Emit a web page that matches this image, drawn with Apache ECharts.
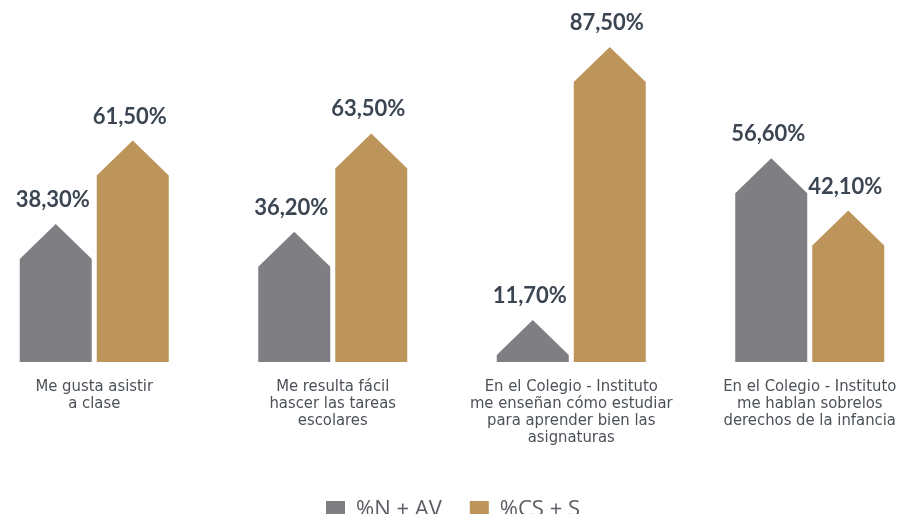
<!DOCTYPE html>
<html>
<head>
<meta charset="utf-8">
<script src="https://cdn.jsdelivr.net/npm/echarts@6/dist/echarts.min.js"></script>
<style>
  html, body { margin: 0; padding: 0; background: #ffffff; }
  #chart { width: 906px; height: 514px; }
</style>
</head>
<body>
<div id="chart"></div>
<script>
// Survey items (axis categories)
const categories = [
  'Me gusta asistir\na clase',
  'Me resulta fácil\nhascer las tareas\nescolares',
  'En el Colegio - Instituto\nme enseñan cómo estudiar\npara aprender bien las\nasignaturas',
  'En el Colegio - Instituto\nme hablan sobrelos\nderechos de la infancia'
];
const seriesNames = ['%N + AV', '%CS + S'];
const valuesNAV = [38.3, 36.2, 11.7, 56.6];
const valuesCSS = [61.5, 63.5, 87.5, 42.1];

const GREY = '#7f7e83';
const GOLD = '#bd955b';
const BAR_W = 72;
const BAR_OFFSET = 38.5;
const ROOF_H = 35;

function fmt(v) {
  return v.toFixed(2).replace('.', ',') + '%';
}

// Each bar is drawn as a small house: a rectangle with a pitched roof whose
// apex sits at the data value.
function houseRenderer(offset, color) {
  return function (params, api) {
    const idx = api.value(0);
    const val = api.value(1);
    const top = api.coord([idx, val]);
    const base = api.coord([idx, 0]);
    const cx = top[0] + offset;
    const half = BAR_W / 2;
    const roof = Math.min(ROOF_H, base[1] - top[1]);
    return {
      type: 'group',
      children: [
        {
          type: 'polygon',
          shape: {
            points: [
              [cx - half, base[1]],
              [cx - half, top[1] + roof],
              [cx, top[1]],
              [cx + half, top[1] + roof],
              [cx + half, base[1]]
            ]
          },
          style: { fill: color }
        },
        {
          type: 'text',
          x: cx - 3,
          y: top[1] - 13,
          style: {
            text: fmt(val),
            fill: '#3b4652',
            font: 'bold 22px Lato, "Noto Sans", sans-serif',
            align: 'center',
            verticalAlign: 'bottom'
          }
        }
      ]
    };
  };
}

const chart = echarts.init(document.getElementById('chart'));
chart.setOption({
  backgroundColor: '#ffffff',
  animation: false,
  grid: {
    left: -25, right: -23, top: 2, bottom: 152,
    containLabel: false,
    outerBoundsMode: 'none'
  },
  legend: {
    top: 494,
    left: 'center',
    icon: 'rect',
    itemWidth: 19,
    itemHeight: 18,
    itemGap: 28,
    textStyle: {
      color: '#5a5d63',
      fontSize: 22,
      fontFamily: '"Open Sans", "Noto Sans", sans-serif',
      padding: [0, 0, 0, 6]
    },
    data: seriesNames
  },
  xAxis: {
    type: 'category',
    data: categories,
    axisLine: { show: false },
    axisTick: { show: false },
    axisLabel: {
      interval: 0,
      margin: 16,
      fontSize: 16.5,
      lineHeight: 17,
      color: '#4c5157',
      fontFamily: '"DejaVu Sans Condensed", sans-serif'
    }
  },
  yAxis: {
    type: 'value',
    min: 0,
    max: 100,
    show: false,
    splitLine: { show: false }
  },
  series: [
    {
      name: seriesNames[0],
      type: 'custom',
      itemStyle: { color: GREY },
      encode: { x: 0, y: 1 },
      data: valuesNAV.map((v, i) => [i, v]),
      renderItem: houseRenderer(-BAR_OFFSET, GREY)
    },
    {
      name: seriesNames[1],
      type: 'custom',
      itemStyle: { color: GOLD },
      encode: { x: 0, y: 1 },
      data: valuesCSS.map((v, i) => [i, v]),
      renderItem: houseRenderer(BAR_OFFSET, GOLD)
    }
  ]
});
</script>
</body>
</html>
